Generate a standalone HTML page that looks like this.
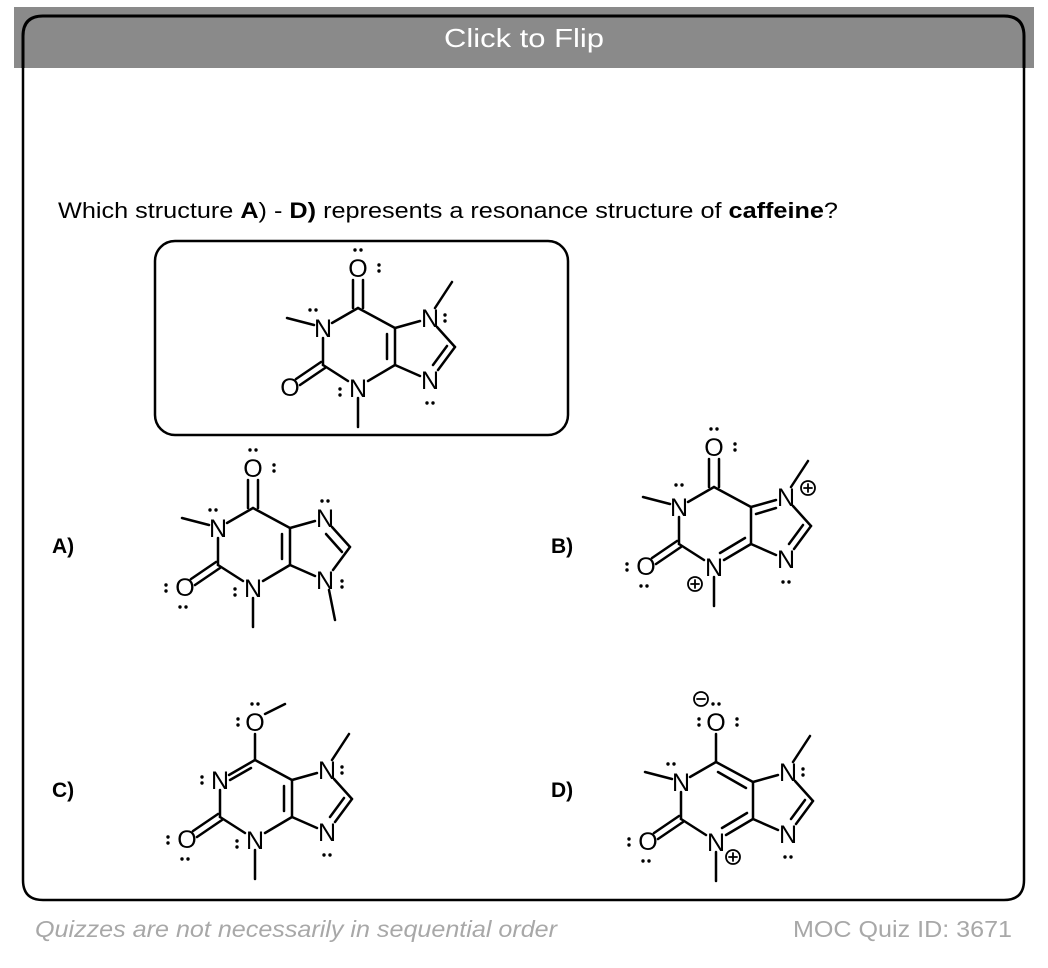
<!DOCTYPE html>
<html><head><meta charset="utf-8"><style>
html,body{margin:0;padding:0;background:#fff;width:1048px;height:968px;overflow:hidden}
svg{display:block}
</style></head><body>
<svg width="1048" height="968" viewBox="0 0 1048 968" xmlns="http://www.w3.org/2000/svg" font-family="Liberation Sans, Arial, sans-serif">
<defs>
<g id="lp"><circle cx="-3" cy="0" r="1.7" fill="#000"/><circle cx="3" cy="0" r="1.7" fill="#000"/></g>
<g id="lpv"><circle cx="0" cy="-3" r="1.7" fill="#000"/><circle cx="0" cy="3" r="1.7" fill="#000"/></g>
</defs>
<rect x="14" y="7" width="1020" height="61" fill="#8a8a8a"/>
<path d="M23 68 V36 Q23 16 43 16 H1004 Q1024 16 1024 36 V68" fill="none" stroke="#000" stroke-width="3"/>
<text x="524" y="47" text-anchor="middle" font-size="26" fill="#fff" textLength="160" lengthAdjust="spacingAndGlyphs">Click to Flip</text>
<path d="M23 68 V880 Q23 900 43 900 H1004 Q1024 900 1024 880 V68" fill="none" stroke="#000" stroke-width="2.5"/>
<text x="58" y="218" font-size="22" textLength="780" lengthAdjust="spacingAndGlyphs">Which structure <tspan font-weight="bold">A</tspan>) - <tspan font-weight="bold">D)</tspan> represents  a resonance structure of <tspan font-weight="bold">caffeine</tspan>?</text>
<rect x="155" y="241" width="413" height="194" rx="20" fill="none" stroke="#000" stroke-width="2.5"/>

<g stroke="#000" stroke-width="2.5" fill="none" stroke-linecap="round">
<line x1="353" y1="280" x2="353" y2="308"/><line x1="363" y1="280" x2="363" y2="308"/>
<line x1="358" y1="308" x2="332" y2="323"/><line x1="314" y1="325" x2="287" y2="318"/>
<line x1="323" y1="338" x2="323" y2="365"/>
<line x1="325" y1="368" x2="300" y2="385"/><line x1="321" y1="362" x2="296" y2="379"/>
<line x1="323" y1="365" x2="348" y2="381"/><line x1="358" y1="398" x2="358" y2="427"/>
<line x1="368" y1="381" x2="395" y2="365"/>
<line x1="395" y1="365" x2="395" y2="328"/><line x1="387" y1="334" x2="387" y2="359"/>
<line x1="395" y1="328" x2="358" y2="308"/>
<line x1="395" y1="328" x2="420" y2="321"/><line x1="435" y1="308" x2="452" y2="282"/>
<line x1="437" y1="327" x2="455" y2="347"/>
<line x1="455" y1="347" x2="438" y2="370"/><line x1="447" y1="346" x2="433" y2="365"/>
<line x1="420" y1="376" x2="395" y2="365"/>
</g>
<g font-size="25" text-anchor="middle">
<text x="358" y="277">O</text><text x="323" y="337">N</text><text x="290" y="396">O</text>
<text x="358" y="397">N</text><text x="430" y="327">N</text><text x="430" y="389">N</text>
</g>
<use href="#lp" x="358" y="250"/><use href="#lpv" x="379" y="268"/><use href="#lp" x="313" y="310"/><use href="#lpv" x="445" y="318"/><use href="#lp" x="430" y="403"/><use href="#lpv" x="340" y="392"/>

<!-- A -->
<g transform="translate(-105,200)">
<g stroke="#000" stroke-width="2.5" fill="none" stroke-linecap="round">
<line x1="353" y1="280" x2="353" y2="308"/><line x1="363" y1="280" x2="363" y2="308"/>
<line x1="358" y1="308" x2="332" y2="323"/><line x1="314" y1="325" x2="287" y2="318"/>
<line x1="323" y1="338" x2="323" y2="365"/>
<line x1="325" y1="368" x2="300" y2="385"/><line x1="321" y1="362" x2="296" y2="379"/>
<line x1="323" y1="365" x2="348" y2="381"/><line x1="358" y1="398" x2="358" y2="427"/>
<line x1="368" y1="381" x2="395" y2="365"/>
<line x1="395" y1="365" x2="395" y2="328"/><line x1="387" y1="334" x2="387" y2="359"/>
<line x1="395" y1="328" x2="358" y2="308"/>
<line x1="395" y1="328" x2="420" y2="321"/>
<line x1="437" y1="327" x2="455" y2="347"/><line x1="431" y1="334" x2="447" y2="352"/>
<line x1="455" y1="347" x2="438" y2="370"/>
<line x1="420" y1="376" x2="395" y2="365"/>
<line x1="434" y1="390" x2="440" y2="420"/>
</g>
<g font-size="25" text-anchor="middle">
<text x="358" y="277">O</text><text x="323" y="337">N</text><text x="290" y="396">O</text>
<text x="358" y="397">N</text><text x="430" y="327">N</text><text x="430" y="389">N</text>
</g>
<use href="#lp" x="358" y="250"/><use href="#lpv" x="379" y="268"/><use href="#lp" x="318" y="310"/><use href="#lp" x="430" y="301"/><use href="#lpv" x="447" y="384"/><use href="#lpv" x="340" y="392"/><use href="#lpv" x="271" y="388"/><use href="#lp" x="288" y="407"/>
</g>

<!-- B -->
<g transform="translate(356,179)">
<g stroke="#000" stroke-width="2.5" fill="none" stroke-linecap="round">
<line x1="353" y1="280" x2="353" y2="308"/><line x1="363" y1="280" x2="363" y2="308"/>
<line x1="358" y1="308" x2="332" y2="323"/><line x1="314" y1="325" x2="287" y2="318"/>
<line x1="323" y1="338" x2="323" y2="365"/>
<line x1="325" y1="368" x2="300" y2="385"/><line x1="321" y1="362" x2="296" y2="379"/>
<line x1="323" y1="365" x2="348" y2="381"/><line x1="358" y1="398" x2="358" y2="427"/>
<line x1="368" y1="381" x2="395" y2="365"/><line x1="364" y1="374" x2="389" y2="359"/>
<line x1="395" y1="365" x2="395" y2="328"/>
<line x1="395" y1="328" x2="358" y2="308"/>
<line x1="395" y1="328" x2="420" y2="321"/><line x1="400" y1="335" x2="420" y2="329"/>
<line x1="435" y1="308" x2="452" y2="282"/>
<line x1="437" y1="327" x2="455" y2="347"/>
<line x1="455" y1="347" x2="438" y2="370"/><line x1="447" y1="346" x2="433" y2="365"/>
<line x1="420" y1="376" x2="395" y2="365"/>
<circle cx="452" cy="309" r="7" stroke-width="1.8"/><line x1="448" y1="309" x2="456" y2="309" stroke-width="1.8"/><line x1="452" y1="305" x2="452" y2="313" stroke-width="1.8"/>
<circle cx="339" cy="405" r="7" stroke-width="1.8"/><line x1="335" y1="405" x2="343" y2="405" stroke-width="1.8"/><line x1="339" y1="401" x2="339" y2="409" stroke-width="1.8"/>
</g>
<g font-size="25" text-anchor="middle">
<text x="358" y="277">O</text><text x="323" y="337">N</text><text x="290" y="396">O</text>
<text x="358" y="397">N</text><text x="430" y="327">N</text><text x="430" y="389">N</text>
</g>
<use href="#lp" x="358" y="250"/><use href="#lpv" x="379" y="268"/><use href="#lp" x="323" y="306"/><use href="#lp" x="430" y="403"/><use href="#lpv" x="271" y="388"/><use href="#lp" x="288" y="407"/>
</g>

<!-- C -->
<g transform="translate(-103,452)">
<g stroke="#000" stroke-width="2.5" fill="none" stroke-linecap="round">
<line x1="358" y1="282" x2="358" y2="308"/><line x1="368" y1="262" x2="388" y2="252"/>
<line x1="358" y1="308" x2="332" y2="323"/><line x1="354" y1="316" x2="333" y2="328"/>
<line x1="323" y1="338" x2="323" y2="365"/>
<line x1="325" y1="368" x2="300" y2="385"/><line x1="321" y1="362" x2="296" y2="379"/>
<line x1="323" y1="365" x2="348" y2="381"/><line x1="358" y1="398" x2="358" y2="427"/>
<line x1="368" y1="381" x2="395" y2="365"/>
<line x1="395" y1="365" x2="395" y2="328"/><line x1="387" y1="334" x2="387" y2="359"/>
<line x1="395" y1="328" x2="358" y2="308"/>
<line x1="395" y1="328" x2="420" y2="321"/><line x1="435" y1="308" x2="452" y2="282"/>
<line x1="437" y1="327" x2="455" y2="347"/>
<line x1="455" y1="347" x2="438" y2="370"/><line x1="447" y1="346" x2="433" y2="365"/>
<line x1="420" y1="376" x2="395" y2="365"/>
</g>
<g font-size="25" text-anchor="middle">
<text x="358" y="279">O</text><text x="323" y="337">N</text><text x="290" y="396">O</text>
<text x="358" y="397">N</text><text x="430" y="327">N</text><text x="430" y="389">N</text>
</g>
<use href="#lp" x="358" y="252"/><use href="#lpv" x="341" y="270"/><use href="#lpv" x="305" y="328"/><use href="#lpv" x="445" y="318"/><use href="#lp" x="430" y="403"/><use href="#lpv" x="340" y="392"/><use href="#lpv" x="271" y="388"/><use href="#lp" x="288" y="407"/>
</g>

<!-- D -->
<g transform="translate(358,454)">
<g stroke="#000" stroke-width="2.5" fill="none" stroke-linecap="round">
<line x1="358" y1="280" x2="358" y2="308"/>
<line x1="358" y1="308" x2="332" y2="323"/><line x1="314" y1="325" x2="287" y2="318"/>
<line x1="323" y1="338" x2="323" y2="365"/>
<line x1="325" y1="368" x2="300" y2="385"/><line x1="321" y1="362" x2="296" y2="379"/>
<line x1="323" y1="365" x2="348" y2="381"/><line x1="358" y1="398" x2="358" y2="427"/>
<line x1="368" y1="381" x2="395" y2="365"/><line x1="364" y1="374" x2="389" y2="359"/>
<line x1="395" y1="365" x2="395" y2="328"/>
<line x1="395" y1="328" x2="358" y2="308"/><line x1="388" y1="334" x2="360" y2="318"/>
<line x1="395" y1="328" x2="420" y2="321"/><line x1="435" y1="308" x2="452" y2="282"/>
<line x1="437" y1="327" x2="455" y2="347"/>
<line x1="455" y1="347" x2="438" y2="370"/><line x1="447" y1="346" x2="433" y2="365"/>
<line x1="420" y1="376" x2="395" y2="365"/>
<circle cx="375" cy="403" r="7" stroke-width="1.8"/><line x1="371" y1="403" x2="379" y2="403" stroke-width="1.8"/><line x1="375" y1="399" x2="375" y2="407" stroke-width="1.8"/>
<circle cx="343" cy="245" r="7" stroke-width="1.8"/><line x1="339" y1="245" x2="347" y2="245" stroke-width="1.8"/>
</g>
<g font-size="25" text-anchor="middle">
<text x="358" y="277">O</text><text x="323" y="337">N</text><text x="290" y="396">O</text>
<text x="358" y="397">N</text><text x="430" y="327">N</text><text x="430" y="389">N</text>
</g>
<use href="#lp" x="358" y="250"/><use href="#lpv" x="379" y="268"/><use href="#lpv" x="341" y="268"/><use href="#lp" x="313" y="310"/><use href="#lpv" x="445" y="318"/><use href="#lp" x="430" y="403"/><use href="#lpv" x="271" y="388"/><use href="#lp" x="288" y="407"/>
</g>

<g font-size="21" font-weight="bold">
<text x="52" y="553">A)</text><text x="551" y="553">B)</text>
<text x="52" y="797">C)</text><text x="551" y="797">D)</text>
</g>
<text x="35" y="937" font-size="23" font-style="italic" fill="#a8a8a8" textLength="522" lengthAdjust="spacingAndGlyphs">Quizzes are not necessarily in sequential order</text>
<text x="793" y="937" font-size="23" fill="#a8a8a8" textLength="219" lengthAdjust="spacingAndGlyphs">MOC Quiz ID: 3671</text>
</svg>
</body></html>
